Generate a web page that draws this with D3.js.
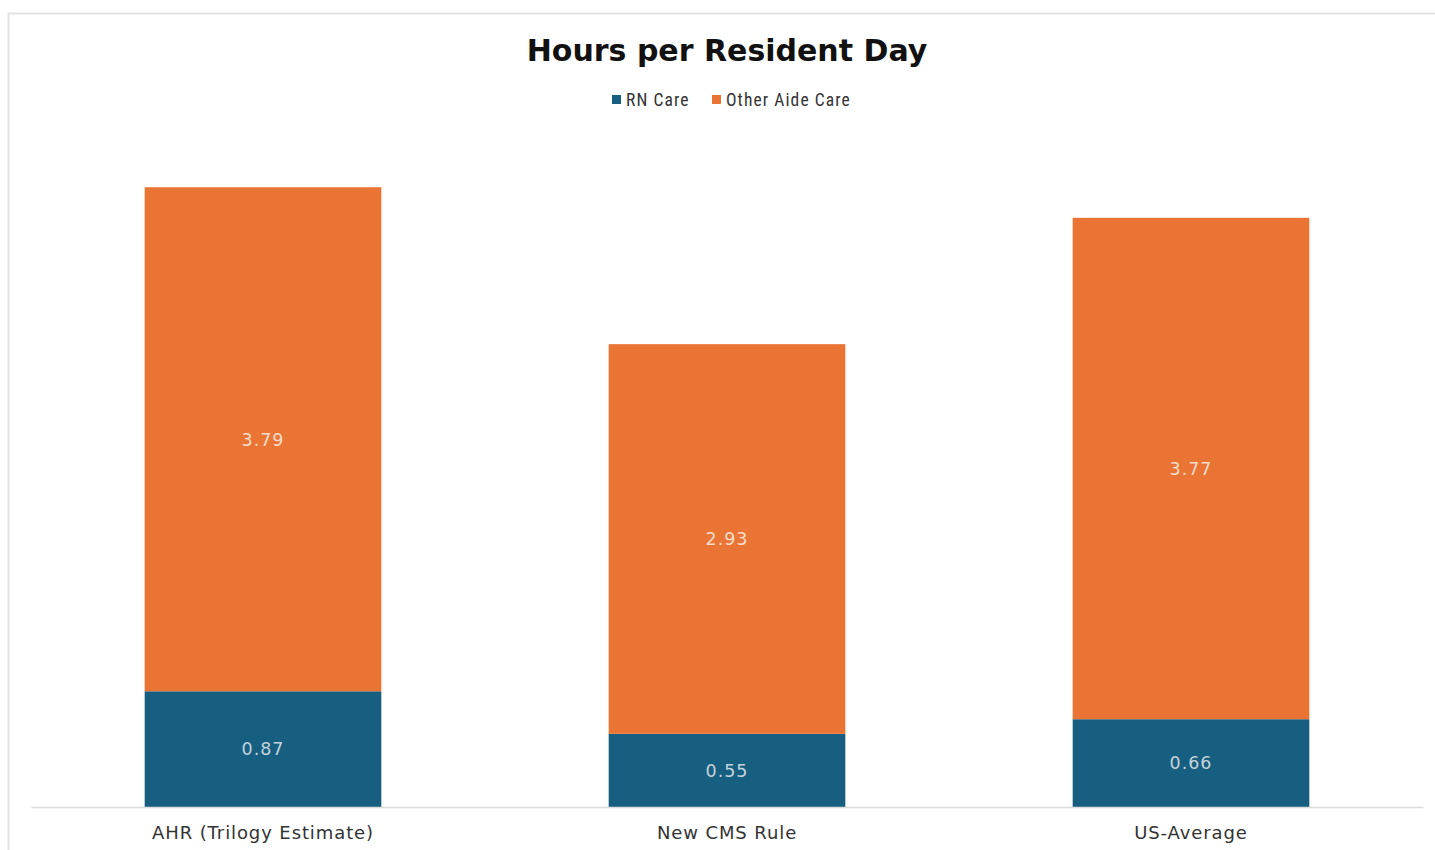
<!DOCTYPE html>
<html>
<head>
<meta charset="utf-8">
<script src="https://cdn.jsdelivr.net/npm/d3@7"></script>
<style>
  body { margin: 0; background: #fff; }
  svg { display: block; }
</style>
</head>
<body>
<svg id="chart"></svg>
<script>
// data
const categories = ['AHR (Trilogy Estimate)', 'New CMS Rule', 'US-Average'];
const rnCare = [0.87, 0.55, 0.66];
const otherAideCare = [3.79, 2.93, 3.77];
const seriesNames = ['RN Care', 'Other Aide Care'];
const seriesColors = ['#175f81', '#e97434'];

const config = {
    width: 1435,
    height: 850,
    margin: { top: 142, right: 12, bottom: 43, left: 31 }
};

const svg = d3.select('#chart')
    .attr('width', config.width)
    .attr('height', config.height);

// outer frame
svg.append('rect')
    .attr('x', 8.5)
    .attr('y', 13.5)
    .attr('width', config.width + 20)
    .attr('height', config.height + 20)
    .attr('fill', 'none')
    .attr('stroke', '#e3e3e3')
    .attr('stroke-width', 2);

const innerW = config.width - config.margin.left - config.margin.right;
const innerH = config.height - config.margin.top - config.margin.bottom;

const chart = svg.append('g')
    .attr('transform', `translate(${config.margin.left},${config.margin.top})`);

const rows = categories.map((c, i) => ({ cat: c, 'RN Care': rnCare[i], 'Other Aide Care': otherAideCare[i] }));

const xScale = d3.scaleBand()
    .domain(categories)
    .range([0, innerW])
    .paddingInner(0.49)
    .paddingOuter(0.245);

const yScale = d3.scaleLinear()
    .domain([0, 5])
    .range([innerH, 0]);

const stacked = d3.stack().keys(seriesNames)(rows);

const layers = chart.selectAll('.layer')
    .data(stacked)
    .join('g')
    .attr('class', 'layer')
    .attr('fill', (d, i) => seriesColors[i]);

layers.selectAll('rect')
    .data(d => d)
    .join('rect')
    .attr('x', d => xScale(d.data.cat))
    .attr('y', d => yScale(d[1]))
    .attr('width', xScale.bandwidth())
    .attr('height', d => yScale(d[0]) - yScale(d[1]));

// value labels
layers.selectAll('text')
    .data(d => d.map(v => ({ v, key: d.key })))
    .join('text')
    .attr('x', d => xScale(d.v.data.cat) + xScale.bandwidth() / 2)
    .attr('y', d => (yScale(d.v[0]) + yScale(d.v[1])) / 2)
    .attr('dy', '0.36em')
    .attr('text-anchor', 'middle')
    .attr('font-family', 'DejaVu Sans, Verdana, sans-serif')
    .attr('font-size', 17.5)
    .attr('letter-spacing', 1)
    .attr('fill', d => d.key === 'RN Care' ? '#c4d2db' : '#f8dccb')
    .text(d => (d.v[1] - d.v[0]).toFixed(2));

// x axis
const xAxis = d3.axisBottom(xScale).tickSize(0).tickPadding(19);
const xAxisG = chart.append('g')
    .attr('transform', `translate(0,${innerH})`)
    .call(xAxis);
xAxisG.select('.domain').attr('stroke', '#dcdcdc').attr('stroke-width', 1.5);
xAxisG.selectAll('text')
    .attr('font-family', 'DejaVu Sans, Verdana, sans-serif')
    .attr('font-size', 18)
    .attr('letter-spacing', 0.9)
    .attr('fill', '#333');

// title
svg.append('text')
    .attr('x', 727)
    .attr('y', 61)
    .attr('text-anchor', 'middle')
    .attr('font-family', 'DejaVu Sans, Verdana, sans-serif')
    .attr('font-weight', 'bold')
    .attr('font-size', 30)
    .attr('fill', '#111')
    .text('Hours per Resident Day');

// legend
const legendX = [612, 712];
const legend = svg.selectAll('.legend')
    .data(seriesNames)
    .join('g')
    .attr('class', 'legend')
    .attr('transform', (d, i) => `translate(${legendX[i]},95)`);
legend.append('rect')
    .attr('width', 9)
    .attr('height', 9)
    .attr('fill', (d, i) => seriesColors[i]);
legend.append('text')
    .attr('x', 14)
    .attr('y', 4.5)
    .attr('dy', '0.35em')
    .attr('font-family', 'Liberation Sans Narrow, Roboto Condensed, sans-serif')
    .attr('font-size', 17.5)
    .attr('letter-spacing', 1.1)
    .attr('fill', '#333')
    .text(d => d);
</script>
</body>
</html>
